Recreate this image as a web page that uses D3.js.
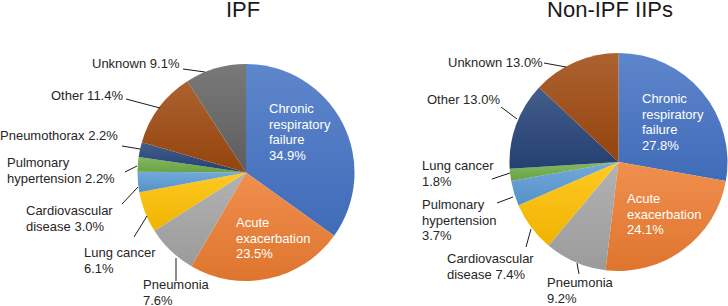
<!DOCTYPE html>
<html>
<head>
<meta charset="utf-8">
<script src="https://cdn.jsdelivr.net/npm/d3@7"></script>
<style>
html,body{margin:0;padding:0;background:#fff;}
svg{display:block;font-family:"Liberation Sans",Arial,sans-serif;}
</style>
</head>
<body>
<svg id="chart" width="728" height="306"></svg>
<script>
// ---- Data ----
const ipfCategories = ["Chronic respiratory failure","Acute exacerbation","Pneumonia","Lung cancer","Cardiovascular disease","Pulmonary hypertension","Pneumothorax","Other","Unknown"];
const ipfValues = [34.9, 23.5, 7.6, 6.1, 3.0, 2.2, 2.2, 11.4, 9.1];
const ipfLabelLines = [
  ["Chronic","respiratory","failure","34.9%"],
  ["Acute","exacerbation","23.5%"],
  ["Pneumonia","7.6%"],
  ["Lung cancer","6.1%"],
  ["Cardiovascular","disease 3.0%"],
  ["Pulmonary","hypertension 2.2%"],
  ["Pneumothorax 2.2%"],
  ["Other 11.4%"],
  ["Unknown 9.1%"]
];
const nonCategories = ["Chronic respiratory failure","Acute exacerbation","Pneumonia","Cardiovascular disease","Pulmonary hypertension","Lung cancer","Other","Unknown"];
const nonValues = [27.8, 24.1, 9.2, 7.4, 3.7, 1.8, 13.0, 13.0];
const nonLabelLines = [
  ["Chronic","respiratory","failure","27.8%"],
  ["Acute","exacerbation","24.1%"],
  ["Pneumonia","9.2%"],
  ["Cardiovascular","disease 7.4%"],
  ["Pulmonary","hypertension","3.7%"],
  ["Lung cancer","1.8%"],
  ["Other 13.0%"],
  ["Unknown 13.0%"]
];
const titles = ["IPF", "Non-IPF IIPs"];

// ---- Styles / layout ----
const ipfColors = ["#4472C4","#ED7D31","#A5A5A5","#FFC000","#5B9BD5","#70AD47","#264478","#9E480E","#636363"];
const nonColors = ["#4472C4","#ED7D31","#A5A5A5","#FFC000","#5B9BD5","#70AD47","#264478","#9E480E"];

// label layout: [textX, firstBaselineY, inside?, leader x1,y1,x2,y2]
const ipfLayout = [
  {x:269, y:113, inside:true},
  {x:236, y:227, inside:true},
  {x:143, y:289, leader:[176,281,176,258]},
  {x:84,  y:257, leader:[134,237,147,216]},
  {x:26,  y:215, leader:[122,204,138,187]},
  {x:7,   y:167, leader:[125,172,137,166]},
  {x:0,   y:140, leader:[122,146,140,149]},
  {x:51,  y:100, leader:[126,99,160,108]},
  {x:92,  y:68,  leader:[183,69,205,72]}
];
const nonLayout = [
  {x:642, y:103, inside:true},
  {x:627, y:203, inside:true},
  {x:547, y:287, leader:[579,274,577,263]},
  {x:447, y:263, leader:[526,247,531,229]},
  {x:422, y:209, leader:[497,203,513,197]},
  {x:422, y:170, leader:[492,179,510,173]},
  {x:427, y:104, leader:[501,107,517,119]},
  {x:448, y:67,  leader:[544,63,566,67]}
];

const svg = d3.select("#chart");
const defs = svg.append("defs");
const lineH = 15.6;

function drawPie(id, cx, cy, r, cats, vals, colors, lines, layout, title, titleX) {
  const pie = d3.pie().sort(null).value(d => d.v);
  const data = cats.map((c, i) => ({c, v: vals[i], i}));
  const arcs = pie(data);
  const arc = d3.arc().innerRadius(0).outerRadius(r);

  colors.forEach((col, i) => {
    const g = defs.append("linearGradient")
      .attr("id", id + "g" + i)
      .attr("x1", 0).attr("y1", 0).attr("x2", 0).attr("y2", 1);
    const c = d3.color(col);
    g.append("stop").attr("offset", "0%").attr("stop-color", d3.interpolateRgb(col, "#ffffff")(0.14));
    g.append("stop").attr("offset", "100%").attr("stop-color", c.darker(0.18).formatHex());
  });

  const g = svg.append("g").attr("transform", `translate(${cx},${cy})`);
  g.selectAll("path").data(arcs).join("path")
    .attr("d", arc)
    .attr("fill", d => `url(#${id}g${d.data.i})`);

  // leaders
  layout.forEach((L, i) => {
    if (L.leader) {
      svg.append("line")
        .attr("x1", L.leader[0]).attr("y1", L.leader[1])
        .attr("x2", L.leader[2]).attr("y2", L.leader[3])
        .attr("stroke", "#1a1a1a").attr("stroke-width", 1);
    }
    const t = svg.append("text")
      .attr("x", L.x).attr("y", L.y)
      .attr("font-size", 13)
      .attr("fill", L.inside ? "#ffffff" : "#262626");
    lines[i].forEach((ln, k) => {
      t.append("tspan").attr("x", L.x).attr("y", L.y + k * lineH).text(ln);
    });
  });

  svg.append("text")
    .attr("x", titleX).attr("y", 17)
    .attr("text-anchor", "middle")
    .attr("font-size", 22)
    .attr("fill", "#1a1a1a")
    .text(title);
}

drawPie("ipf", 246, 172.5, 108.5, ipfCategories, ipfValues, ipfColors, ipfLabelLines, ipfLayout, titles[0], 243);
drawPie("non", 618.5, 162, 109, nonCategories, nonValues, nonColors, nonLabelLines, nonLayout, titles[1], 610);
</script>
</body>
</html>
